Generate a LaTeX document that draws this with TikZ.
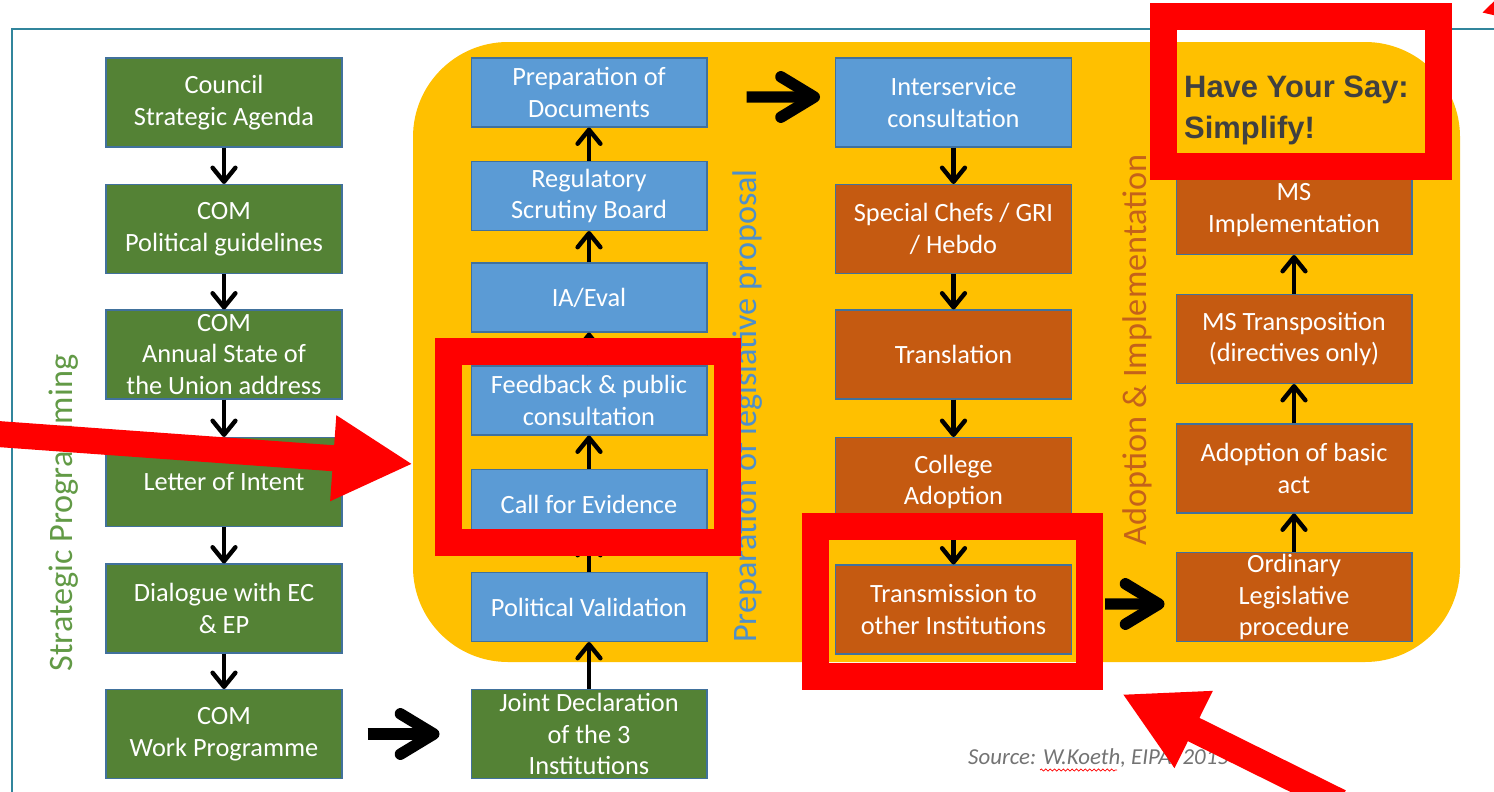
\documentclass[tikz,border=0pt]{standalone}
\usepackage{fontspec}
\setmainfont{Carlito}
\newfontfamily\sayfont{Liberation Sans}
\usetikzlibrary{arrows.meta, decorations.pathmorphing}

\tikzset{
  stage/.style={draw=boxline, line width=0.6pt, text=white, align=center, inner sep=0pt,
    minimum width=4.72cm, minimum height=1.78cm, font=\fontsize{15}{18}\selectfont},
  greenbox/.style={stage, fill=boxgreen},
  bluebox/.style={stage, fill=boxblue, minimum height=1.38cm},
  bluebig/.style={stage, fill=boxblue},
  orangebox/.style={stage, fill=boxorange},
  smallarrow/.style={line width=2.5pt, -{Straight Barb[length=8pt, width=13pt, round]}},
  bigarrow/.style={line width=6.5pt, -{Straight Barb[length=19pt, width=23pt, round]}},
  redarrow/.style={draw=red, line width=0.52cm, -{Triangle[length=1.6cm, width=1.6cm]}},
  redframe/.style={draw=red, line width=0.54cm},
  phase/.style={rotate=90, font=\fontsize{19.5}{22}\selectfont}
}

\begin{document}
\begin{tikzpicture}[x=0.02cm, y=-0.02cm]

% Define colors
\definecolor{boxgreen}{RGB}{84,130,53}
\definecolor{boxblue}{RGB}{91,155,213}
\definecolor{boxorange}{RGB}{197,90,17}
\definecolor{boxline}{RGB}{65,113,156}
\definecolor{bgyellow}{RGB}{255,192,0}
\definecolor{frameteal}{RGB}{49,133,156}
\definecolor{phasegreen}{RGB}{98,154,70}
\definecolor{phaseblue}{RGB}{79,143,202}
\definecolor{phaseorange}{RGB}{196,98,26}
\definecolor{saygray}{RGB}{64,64,64}
\definecolor{sourcegray}{RGB}{115,115,115}

\useasboundingbox (0,0) rectangle (1494,791);

% Draw the outer frame
\draw[frameteal, line width=1pt] (12,800) -- (12,29) -- (1500,29);

% Yellow area
\fill[bgyellow, rounded corners=1.9cm] (413,42) rectangle (1460,662);

% Phase labels
\node[phase, text=phasegreen] (strat) at (64,513) {Strategic Programming};
\node[phase, text=phaseblue] (prep) at (748,406) {Preparation of legislative proposal};
\node[phase, text=phaseorange] (adopt) at (1137,350) {Adoption \& Implementation};

% Strategic programming column
\node[greenbox] (council) at (224,102.5) {Council\\Strategic Agenda};
\node[greenbox] (polguide) at (224,229) {COM\\Political guidelines};
\node[greenbox] (soteu) at (224,354.5) {COM\\Annual State of\\the Union address};
\node[greenbox] (intent) at (224,482) {Letter of Intent};
\node[greenbox] (dialogue) at (224,608.5) {Dialogue with EC\\\& EP};
\node[greenbox] (workprog) at (224,734) {COM\\Work Programme};

% Preparation column
\node[greenbox] (jointdecl) at (589,734) {Joint Declaration\\of the 3\\Institutions};
\node[bluebox] (polval) at (589,607) {Political Validation};
\node[bluebox] (evidence) at (589,504) {Call for Evidence};
\node[bluebox] (feedback) at (589,400.5) {Feedback \& public\\consultation};
\node[bluebox] (iaeval) at (589,297.5) {IA/Eval};
\node[bluebox] (scrutiny) at (589,196) {Regulatory\\Scrutiny Board};
\node[bluebox] (prepdoc) at (589,92.5) {Preparation of\\Documents};

% Commission column
\node[bluebig] (interserv) at (953.5,102.5) {Interservice\\consultation};
\node[orangebox] (chefs) at (953.5,229) {Special Chefs / GRI\\/ Hebdo};
\node[orangebox] (transl) at (953.5,354.5) {Translation};
\node[orangebox] (college) at (953.5,482) {College\\Adoption};
\node[orangebox] (transm) at (953.5,609.5) {Transmission to\\other Institutions};

% Adoption column
\node[orangebox] (ordinary) at (1294,597) {Ordinary\\Legislative\\procedure};
\node[orangebox] (basicact) at (1294,468.5) {Adoption of basic\\act};
\node[orangebox] (transpos) at (1294,339) {MS Transposition\\(directives only)};
\node[orangebox] (msimpl) at (1294,210) {MS\\Implementation};

% Arrows
\draw[smallarrow] (council) -- (polguide);
\draw[smallarrow] (polguide) -- (soteu);
\draw[smallarrow] (soteu) -- (intent);
\draw[smallarrow] (intent) -- (dialogue);
\draw[smallarrow] (dialogue) -- (workprog);

\draw[smallarrow] (jointdecl) -- (polval);
\draw[smallarrow] (polval) -- (evidence);
\draw[smallarrow] (evidence) -- (feedback);
\draw[smallarrow] (feedback) -- (iaeval);
\draw[smallarrow] (iaeval) -- (scrutiny);
\draw[smallarrow] (scrutiny) -- (prepdoc);

\draw[smallarrow] (interserv) -- (chefs);
\draw[smallarrow] (chefs) -- (transl);
\draw[smallarrow] (transl) -- (college);
\draw[smallarrow] (college) -- (transm);

\draw[smallarrow] (ordinary) -- (basicact);
\draw[smallarrow] (basicact) -- (transpos);
\draw[smallarrow] (transpos) -- (msimpl);

\draw[bigarrow, shorten <=0.5cm, shorten >=0.62cm] (workprog) -- (jointdecl);
\draw[bigarrow, shorten <=0.78cm, shorten >=0.3cm] ([yshift=-0.09cm]prepdoc.east) -- ([yshift=0.11cm]interserv.west);
\draw[bigarrow, shorten <=0.66cm, shorten >=0.22cm] ([yshift=0.11cm]transm.east) -- ([yshift=-0.14cm]ordinary.west);

% Source
\node[anchor=west, text=sourcegray, font=\fontsize{13}{15}\selectfont\itshape] (source) at (962,758) {Source: W.Koeth, EIPA, 2015};
\draw[red, line width=0.4pt, decorate, decoration={snake, amplitude=0.6pt, segment length=2.5pt}] (1040,770) -- (1117,770);

% Highlights
\draw[redframe] (448.5,351.5) rectangle (727.5,542.5);
\draw[redframe] (815.5,526.5) rectangle (1089.5,676.5);
\draw[redframe] (1163.5,16.5) rectangle (1438.5,166.5);
\node[anchor=north west, align=left, text=saygray, font=\sayfont\bfseries\fontsize{17.6}{23.2}\selectfont] (say) at (1178,70) {Have Your Say:\\Simplify!};

\coordinate (tipleft) at (413,464);
\coordinate (tipbottom) at (1122,694);
\coordinate (tipcorner) at (1481,13);
\draw[redarrow] (-30,432) -- (tipleft);
\draw[redarrow] (1340,802) -- (tipbottom);
\draw[redarrow] (1580,-15) -- (tipcorner);

\end{tikzpicture}
\end{document}
